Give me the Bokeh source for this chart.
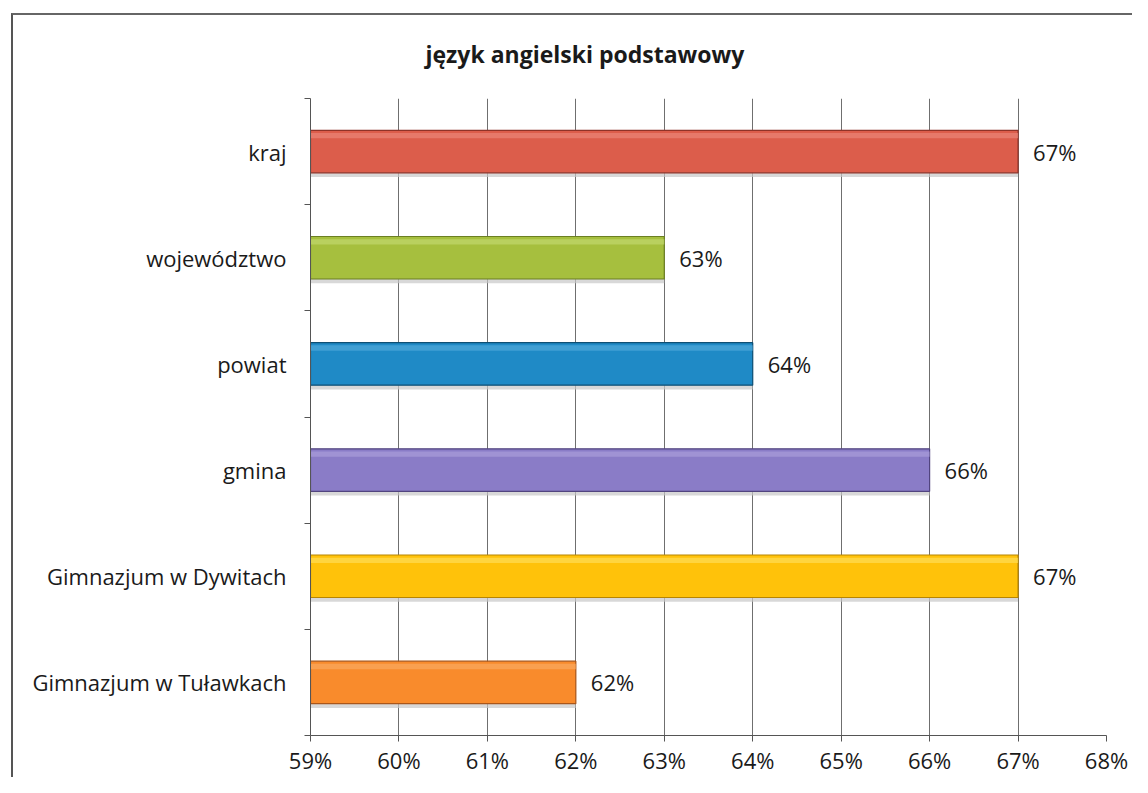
import numpy as np
from bokeh.plotting import figure
from bokeh.models import (ColumnDataSource, FixedTicker, Range1d, Title, LabelSet,
                          InlineStyleSheet)
from bokeh.core.properties import value
from bokeh.transform import dodge
from bokeh.embed import file_html
from bokeh.resources import INLINE

title_text = "język angielski podstawowy"
categories = ["kraj", "województwo", "powiat", "gmina",
              "Gimnazjum w Dywitach", "Gimnazjum w Tuławkach"]
values = [67, 63, 64, 66, 67, 62]
colors = ["#DC5D4B", "#A6BF3E", "#1F8AC6", "#8A7CC7", "#FFC20A", "#F98B2C"]
highlight = ["#E98678", "#C2D76E", "#4FA8D9", "#A99DDA", "#FFDD55", "#FBAA5F"]
edges = ["#8E3328", "#6B7F22", "#0E4F74", "#51447F", "#B88500", "#A9561A"]
x_ticks = [59, 60, 61, 62, 63, 64, 65, 66, 67, 68]
x_min, x_max = 59, 68

FONT = "Open Sans"
n = len(categories)
ys = [n - 0.5 - i for i in range(n)]

src = ColumnDataSource(dict(
    y=ys, v=values, c=colors, h=highlight, e=edges,
    lbl=[f"{v}%" for v in values], base=[x_min] * n,
))

p = figure(width=1132, height=777, output_backend="svg", toolbar_location=None,
           x_range=Range1d(x_min, x_max), y_range=Range1d(0, n),
           min_border_left=310, min_border_right=26,
           min_border_top=98, min_border_bottom=38)
p.outline_line_color = None
p.background_fill_color = "white"
p.border_fill_color = "white"
p.stylesheets = [InlineStyleSheet(css="""
:host { position: relative; }
:host::after {
  content: ""; position: absolute; left: 11px; top: 13px; right: 0; bottom: 0;
  border-left: 2px solid #555; border-top: 2px solid #666;
  pointer-events: none; z-index: 10;
}
""")]

t = Title(text=title_text, align="left", offset=115,
          text_font=FONT, text_font_size="23px", text_font_style="bold",
          text_color="#1a1a1a", standoff=58)
p.add_layout(t, "above")

# grid
p.xgrid.ticker = FixedTicker(ticks=x_ticks)
p.xgrid.grid_line_color = "#6f6f6f"
p.xgrid.grid_line_width = 1
p.ygrid.grid_line_color = None

# shadows
p.hbar(y=dodge("y", -0.04), left="base", right="v", height=0.40, source=src,
       fill_color="#c8c8c8", fill_alpha=0.7, line_color=None)
p.hbar(y="y", left="base", right="v", height=0.40, source=src,
       fill_color="c", line_color="e", line_width=1.2)
p.hbar(y=dodge("y", 0.15), left="base", right="v", height=0.05, source=src,
       fill_color="h", fill_alpha=0.7, line_color=None)

labels = LabelSet(x="v", y="y", text="lbl", source=src, x_offset=15,
                  text_baseline="middle", text_align="left",
                  text_font=value(FONT), text_font_size="22px", text_color="#1a1a1a")
p.add_layout(labels)

# axes
p.xaxis.ticker = FixedTicker(ticks=x_ticks)
p.xaxis.major_label_overrides = {t_: f"{t_}%" for t_ in x_ticks}
p.xaxis.major_label_text_font = FONT
p.xaxis.major_label_text_font_size = "22px"
p.xaxis.major_label_text_color = "#1a1a1a"
p.xaxis.major_label_standoff = 3
p.xaxis.axis_line_color = "#555"
p.xaxis.major_tick_line_color = "#555"
p.xaxis.major_tick_out = 6
p.xaxis.major_tick_in = 0
p.xaxis.minor_tick_line_color = None

p.yaxis.ticker = FixedTicker(ticks=ys, minor_ticks=list(range(n + 1)))
p.yaxis.major_label_overrides = {y_: c for y_, c in zip(ys, categories)}
p.yaxis.major_label_text_font = FONT
p.yaxis.major_label_text_font_size = "22px"
p.yaxis.major_label_text_color = "#1a1a1a"
p.yaxis.major_label_standoff = 18
p.yaxis.major_tick_line_color = None
p.yaxis.minor_tick_line_color = "#555"
p.yaxis.minor_tick_out = 6
p.yaxis.minor_tick_in = 0
p.yaxis.axis_line_color = "#555"

open("out.html", "w").write(file_html(p, INLINE))
